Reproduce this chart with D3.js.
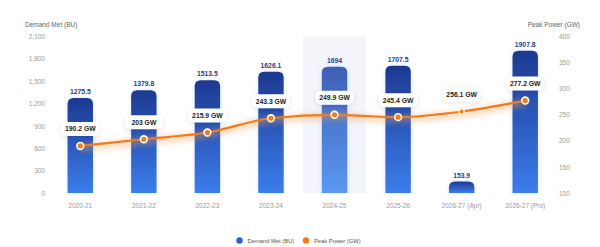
<!DOCTYPE html>
<html><head><meta charset="utf-8">
<script src="https://cdn.jsdelivr.net/npm/d3@7"></script>
<style>body{margin:0;background:#fff;}svg{display:block;font-family:"Liberation Sans",Arial,sans-serif;}</style>
</head><body>
<svg id="c" width="600" height="247"></svg>
<script>
const categories = ["2020-21","2021-22","2022-23","2023-24","2024-25","2025-26","2026-27 (Apr)","2026-27 (Pro)"];
const demandMet = [1275.5,1379.8,1513.5,1626.1,1694,1707.5,153.9,1907.8];
const peakPower = [190.2,203,215.9,243.3,249.9,245.4,256.1,277.2];
const leftTicks = [0,300,600,900,1200,1500,1800,2100];
const rightTicks = [100,150,200,250,300,350,400];
const highlightCategory = "2024-25";
const smallPointCategory = "2026-27 (Apr)";
const FONT = "Liberation Sans, Arial, sans-serif";

const svg = d3.select("#c");
const x = d3.scaleBand().domain(categories).range([48.5,557]).paddingInner(0.6).paddingOuter(0.3);
const step = x.step();
const yL = d3.scaleLinear().domain([0,2100]).range([193,36.5]);
const yR = d3.scaleLinear().domain([100,400]).range([193,36.5]);

const defs = svg.append("defs");
function grad(id, top, bot){
  const g = defs.append("linearGradient").attr("id",id).attr("x1",0).attr("y1",0).attr("x2",0).attr("y2",1);
  g.append("stop").attr("offset","0%").attr("stop-color",top);
  g.append("stop").attr("offset","100%").attr("stop-color",bot);
}
grad("gBar","#1d3990","#3b7deb");
grad("gBarH","#3f5fb6","#5b98f2");
const f1 = defs.append("filter").attr("id","glow").attr("x","-20%").attr("y","-50%").attr("width","140%").attr("height","200%");
f1.append("feGaussianBlur").attr("stdDeviation",3);
const f2 = defs.append("filter").attr("id","shadow").attr("x","-30%").attr("y","-50%").attr("width","160%").attr("height","200%");
f2.append("feDropShadow").attr("dx",0).attr("dy",1).attr("stdDeviation",2).attr("flood-color","#000").attr("flood-opacity",0.12);
const f3 = defs.append("filter").attr("id","barShadow").attr("x","-40%").attr("y","-10%").attr("width","180%").attr("height","120%");
f3.append("feDropShadow").attr("dx",0).attr("dy",0).attr("stdDeviation",2).attr("flood-color","#3b6fd8").attr("flood-opacity",0.18);

// highlight band
svg.append("rect")
  .attr("x", x(highlightCategory) - (step - x.bandwidth())/2)
  .attr("y", yL(2100)).attr("width", step).attr("height", yL(0)-yL(2100))
  .attr("fill","#f3f5fb");

// axes titles
svg.append("text").attr("x",25).attr("y",27).attr("font-size",6.5).attr("fill","#666").text("Demand Met (BU)");
svg.append("text").attr("x",580).attr("y",27).attr("text-anchor","end").attr("font-size",6.5).attr("fill","#666").text("Peak Power (GW)");

function styleAxis(g){
  g.attr("font-family",FONT);
  g.select(".domain").remove();
  g.selectAll("text").attr("font-size",6.5).attr("fill","#9a9a9a");
}
svg.append("g").attr("transform","translate(45,0)")
  .call(d3.axisLeft(yL).tickValues(leftTicks).tickFormat(d3.format(",")).tickSize(0).tickPadding(0)).call(styleAxis);
svg.append("g").attr("transform","translate(559,0)")
  .call(d3.axisRight(yR).tickValues(rightTicks).tickSize(0).tickPadding(0)).call(styleAxis);
svg.append("g").attr("transform","translate(0,203)")
  .call(d3.axisBottom(x).tickSize(0).tickPadding(0)).call(styleAxis);

// bars
const r = 6;
function barPath(x0,w,yt,yb){
  const rr = Math.min(r,(yb-yt),w/2);
  return `M${x0},${yb}V${yt+rr}Q${x0},${yt} ${x0+rr},${yt}H${x0+w-rr}Q${x0+w},${yt} ${x0+w},${yt+rr}V${yb}Z`;
}
svg.append("g").selectAll("path").data(categories).join("path")
  .attr("d",(c,i)=>barPath(x(c),x.bandwidth(),yL(demandMet[i]),yL(0)))
  .attr("fill",c=>c===highlightCategory?"url(#gBarH)":"url(#gBar)")
  .attr("filter","url(#barShadow)");
svg.append("g").selectAll("text").data(categories).join("text")
  .attr("x",c=>x(c)+x.bandwidth()/2).attr("y",(c,i)=>yL(demandMet[i])-4)
  .attr("text-anchor","middle").attr("font-size",6.8).attr("font-weight",700).attr("fill","#23408f")
  .text((c,i)=>demandMet[i]);

// line
const line = d3.line().x((d,i)=>x(categories[i])+x.bandwidth()/2).y(d=>yR(d)).curve(d3.curveMonotoneX);
svg.append("path").attr("d",line(peakPower)).attr("fill","none").attr("stroke","#f7a052").attr("stroke-width",5).attr("opacity",0.55).attr("filter","url(#glow)").attr("transform","translate(0,2)");
svg.append("path").attr("d",line(peakPower)).attr("fill","none").attr("stroke","#f07b1c").attr("stroke-width",2.2);
svg.append("g").selectAll("circle").data(categories).join("circle")
  .attr("cx",c=>x(c)+x.bandwidth()/2).attr("cy",(c,i)=>yR(peakPower[i]))
  .attr("r",c=>c===smallPointCategory?2.6:3.4)
  .attr("fill","#f07b1c").attr("stroke","#fff").attr("stroke-width",c=>c===smallPointCategory?1.2:1.6);

// GW labels
const lg = svg.append("g").selectAll("g").data(categories).join("g")
  .attr("transform",(c,i)=>`translate(${x(c)+x.bandwidth()/2},${yR(peakPower[i])-17})`);
lg.append("rect").attr("x",-19).attr("y",-7).attr("width",38).attr("height",14).attr("rx",5)
  .attr("fill","#fff").attr("filter","url(#shadow)");
lg.append("text").attr("text-anchor","middle").attr("dy","0.35em").attr("font-size",6.8).attr("font-weight",700).attr("fill","#222")
  .text((c,i)=>peakPower[i]+" GW");

// legend
const leg = svg.append("g");
leg.append("circle").attr("cx",239.5).attr("cy",240.5).attr("r",3.2).attr("fill","#2f5fcf");
leg.append("text").attr("x",247.5).attr("y",240.5).attr("dy","0.35em").attr("font-size",5.8).attr("fill","#555").text("Demand Met (BU)");
leg.append("circle").attr("cx",306).attr("cy",240.5).attr("r",3.2).attr("fill","#f07b1c");
leg.append("text").attr("x",314).attr("y",240.5).attr("dy","0.35em").attr("font-size",5.8).attr("fill","#555").text("Peak Power (GW)");
</script>
</body></html>
